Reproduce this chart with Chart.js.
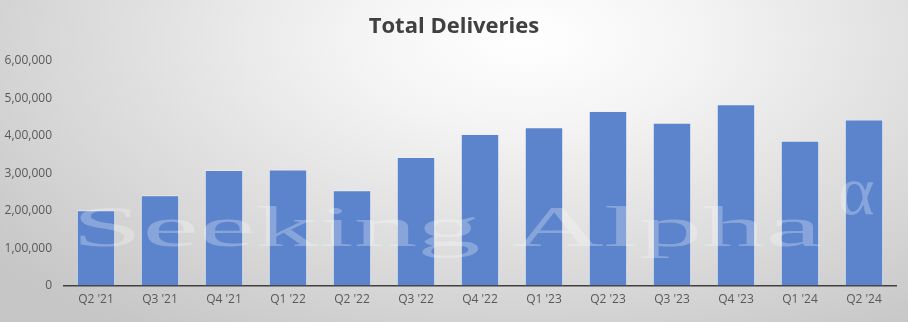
<!DOCTYPE html>
<html>
<head>
<meta charset="utf-8">
<script src="https://cdn.jsdelivr.net/npm/chart.js@4.4.1/dist/chart.umd.min.js"></script>
<style>
html,body{margin:0;padding:0;}
body{width:908px;height:322px;overflow:hidden;
background:radial-gradient(ellipse 75% 110% at 58% 12%, #ffffff 0%, #f4f4f4 25%, #dedede 60%, #c6c6c6 100%);}
#wrap{position:relative;width:908px;height:322px;}
#title{position:absolute;left:0;top:9px;width:908px;text-align:center;margin:0;
font-family:"Open Sans","Noto Sans",sans-serif;font-weight:bold;font-size:22px;line-height:30px;color:#404040;}
canvas{position:absolute;left:0;top:0;}
</style>
</head>
<body>
<div id="wrap"><canvas id="c" width="908" height="322"></canvas><div id="title"></div></div>
<script>
const categories = ["Q2 '21","Q3 '21","Q4 '21","Q1 '22","Q2 '22","Q3 '22","Q4 '22","Q1 '23","Q2 '23","Q3 '23","Q4 '23","Q1 '24","Q2 '24"];
const deliveries = [201250,241300,308600,310048,254695,343830,405278,422875,466140,435059,484507,386810,443956];
const yTicks = [0,100000,200000,300000,400000,500000,600000];
const titleText = "Total Deliveries";
const watermark = "Seeking Alpha";

document.getElementById('title').textContent = titleText;

function indianFormat(v){
  if (v === 0) return "0";
  const s = String(Math.round(v));
  const last3 = s.slice(-3);
  let rest = s.slice(0,-3);
  if (!rest) return last3;
  rest = rest.replace(/\B(?=(\d{2})+(?!\d))/g, ",");
  return rest + "," + last3;
}

const watermarkPlugin = {
  id:'wm',
  afterDatasetsDraw(chart){
    const ctx = chart.ctx;
    ctx.save();
    ctx.fillStyle = 'rgba(255,255,255,0.27)';
    ctx.font = '56px "Liberation Serif", "DejaVu Serif", serif';
    ctx.textBaseline = 'alphabetic';
    const w = ctx.measureText(watermark).width;
    const target = 750;
    ctx.translate(72, 246);
    ctx.scale(target / w, 1);
    ctx.fillText(watermark, 0, 0);
    ctx.restore();
    ctx.save();
    ctx.fillStyle = 'rgba(255,255,255,0.27)';
    ctx.font = '70px "Liberation Serif", "DejaVu Serif", serif';
    ctx.fillText('\u03B1', 838, 214);
    ctx.restore();
  }
};

new Chart(document.getElementById('c'), {
  type:'bar',
  data:{
    labels:categories,
    datasets:[{
      data:deliveries,
      backgroundColor:'#5b84cc',
      borderColor:'rgba(235,240,250,0.7)',
      borderWidth:1,
      barPercentage:0.6,
      categoryPercentage:1.0
    }]
  },
  options:{
    responsive:false,
    animation:false,
    layout:{padding:{left:0,right:12,top:61,bottom:8}},
    plugins:{
      legend:{display:false},
      tooltip:{enabled:false},
      title:{display:false}
    },
    scales:{
      x:{
        grid:{display:false,drawTicks:false},
        border:{display:true,color:'#404040',width:1.5},
        ticks:{color:'#595959',font:{family:'"Open Sans", "Noto Sans", sans-serif',size:12},padding:7}
      },
      y:{
        min:0,max:600000,
        afterBuildTicks(axis){ axis.ticks = yTicks.map(v=>({value:v})); },
        afterFit(axis){ axis.width = 64; },
        grid:{display:false,drawTicks:false},
        border:{display:false},
        ticks:{
          color:'#595959',
          font:{family:'"Open Sans", "Noto Sans", sans-serif',size:12},
          padding:12,
          callback:(v)=>indianFormat(v)
        }
      }
    }
  },
  plugins:[watermarkPlugin]
});
</script>
</body>
</html>
